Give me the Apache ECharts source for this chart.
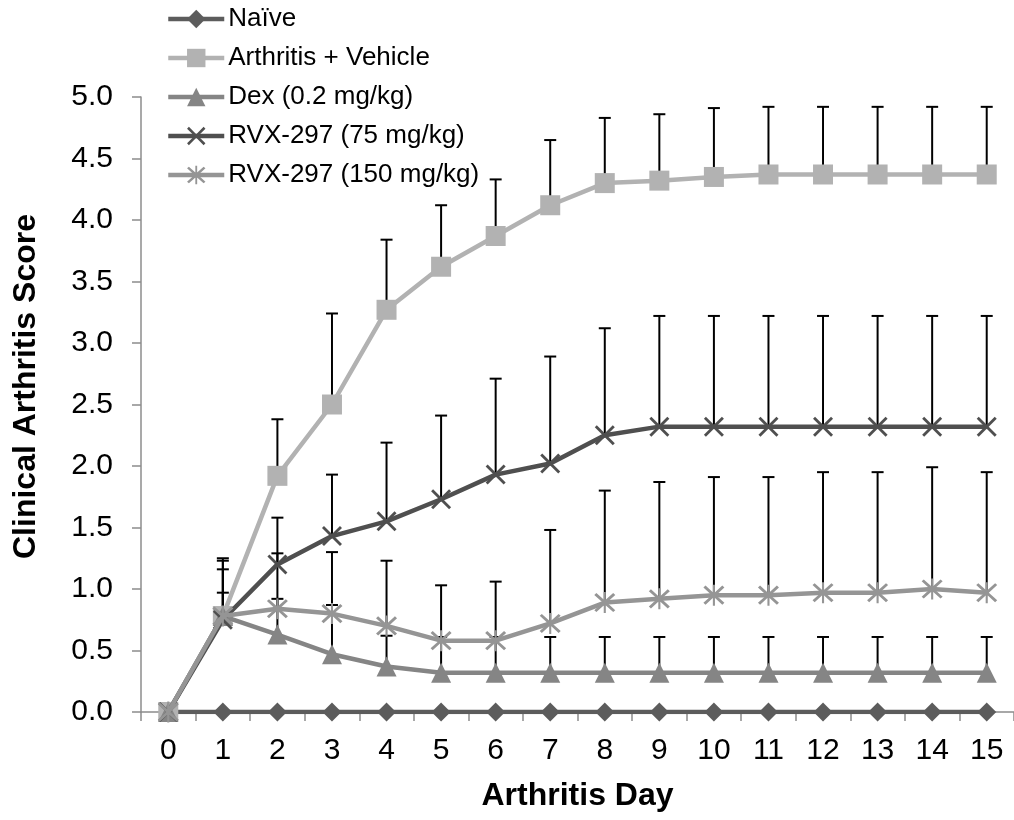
<!DOCTYPE html>
<html>
<head>
<meta charset="utf-8">
<script src="https://cdn.jsdelivr.net/npm/echarts@6/dist/echarts.min.js"></script>
<style>
html, body { margin: 0; padding: 0; background: #fff; }
#chart { width: 1014px; height: 820px; }
</style>
</head>
<body>
<div id="chart"></div>
<script>
const days = ['0','1','2','3','4','5','6','7','8','9','10','11','12','13','14','15'];
const yTicks = [0, 0.5, 1, 1.5, 2, 2.5, 3, 3.5, 4, 4.5, 5];

const seriesNames = ['Naïve', 'Arthritis + Vehicle', 'Dex (0.2 mg/kg)', 'RVX-297 (75 mg/kg)', 'RVX-297 (150 mg/kg)'];

const naive      = [0, 0, 0, 0, 0, 0, 0, 0, 0, 0, 0, 0, 0, 0, 0, 0];
const vehicle    = [0, 0.78, 1.92, 2.50, 3.27, 3.62, 3.87, 4.12, 4.30, 4.32, 4.35, 4.37, 4.37, 4.37, 4.37, 4.37];
const dex        = [0, 0.78, 0.63, 0.47, 0.37, 0.32, 0.32, 0.32, 0.32, 0.32, 0.32, 0.32, 0.32, 0.32, 0.32, 0.32];
const rvx75      = [0, 0.75, 1.20, 1.43, 1.55, 1.73, 1.93, 2.02, 2.25, 2.32, 2.32, 2.32, 2.32, 2.32, 2.32, 2.32];
const rvx150     = [0, 0.78, 0.84, 0.80, 0.70, 0.58, 0.58, 0.72, 0.89, 0.92, 0.95, 0.95, 0.97, 0.97, 1.00, 0.97];

// upper end of each error bar (mean + SEM)
const vehicleTop = [0, 1.25, 2.38, 3.24, 3.84, 4.12, 4.33, 4.65, 4.83, 4.86, 4.91, 4.92, 4.92, 4.92, 4.92, 4.92];
const dexTop     = [0, 0.97, 0.92, 0.87, 0.62, 0.61, 0.61, 0.61, 0.61, 0.61, 0.61, 0.61, 0.61, 0.61, 0.61, 0.61];
const rvx75Top   = [0, 1.23, 1.58, 1.93, 2.19, 2.41, 2.71, 2.89, 3.12, 3.22, 3.22, 3.22, 3.22, 3.22, 3.22, 3.22];
const rvx150Top  = [0, 1.16, 1.29, 1.30, 1.23, 1.03, 1.06, 1.48, 1.80, 1.87, 1.91, 1.91, 1.95, 1.95, 1.99, 1.95];

const colors = ['#5c5c5c', '#b2b2b2', '#858585', '#4f4f4f', '#959595'];
const symbols = [
  'diamond',
  'rect',
  'triangle',
  'path://M0,2 L2,0 L10,8 L18,0 L20,2 L12,10 L20,18 L18,20 L10,12 L2,20 L0,18 L8,10 Z',
  'path://M0,2 L2,0 L10,8 L18,0 L20,2 L12,10 L20,18 L18,20 L10,12 L2,20 L0,18 L8,10 Z M9,-1 L11,-1 L11,21 L9,21 Z'
];
const symbolSizes = [19, 20, 20, 20, 21];
const means = [naive, vehicle, dex, rvx75, rvx150];
const tops = [null, vehicleTop, dexTop, rvx75Top, rvx150Top];

const font = '"Liberation Sans", Arial, sans-serif';

function errorSeries(mean, top) {
  const data = mean.map((v, i) => [i, v, top[i]]);
  return {
    type: 'custom',
    z: 1,
    silent: true,
    renderItem: function (params, api) {
      const x = api.value(0);
      if (api.value(2) <= api.value(1)) return;
      const p0 = api.coord([x, api.value(1)]);
      const p1 = api.coord([x, api.value(2)]);
      const w = 6;
      const st = { stroke: '#000', lineWidth: 2 };
      return {
        type: 'group',
        children: [
          { type: 'line', shape: { x1: p0[0], y1: p0[1], x2: p1[0], y2: p1[1] }, style: st },
          { type: 'line', shape: { x1: p1[0] - w, y1: p1[1], x2: p1[0] + w, y2: p1[1] }, style: st }
        ]
      };
    },
    encode: { x: 0, y: [1, 2] },
    data: data
  };
}

const series = [];
for (let k = 1; k < means.length; k++) {
  series.push(errorSeries(means[k], tops[k]));
}
for (let k = 0; k < means.length; k++) {
  series.push({
    name: seriesNames[k],
    type: 'line',
    z: 3 + k,
    data: means[k],
    symbol: symbols[k],
    symbolSize: symbolSizes[k],
    showAllSymbol: true,
    lineStyle: { color: colors[k], width: 4.5 },
    itemStyle: { color: colors[k] },
    emphasis: { disabled: true }
  });
}

const chart = echarts.init(document.getElementById('chart'));
chart.setOption({
  animation: false,
  backgroundColor: '#fff',
  textStyle: { fontFamily: font },
  grid: { left: 141, top: 97, width: 875, height: 615, containLabel: false },
  legend: {
    orient: 'vertical',
    left: 161,
    top: 1,
    itemWidth: 56,
    itemHeight: 23,
    itemGap: 13,
    lineStyle: { width: 4.5 },
    textStyle: { fontSize: 26, color: '#000', fontFamily: font, padding: [0, 0, 0, -1] },
    data: seriesNames
  },
  xAxis: {
    type: 'category',
    data: days,
    boundaryGap: true,
    name: 'Arthritis Day',
    nameLocation: 'middle',
    nameGap: 68,
    nameTextStyle: { fontSize: 32, fontWeight: 'bold', color: '#000', fontFamily: font },
    axisLine: { lineStyle: { color: '#8c8c8c', width: 1.5 } },
    axisTick: { show: true, length: 9, lineStyle: { color: '#8c8c8c', width: 1.5 } },
    axisLabel: { fontSize: 30, color: '#000', margin: 24, fontFamily: font }
  },
  yAxis: {
    type: 'value',
    min: 0,
    max: 5,
    interval: 0.5,
    name: 'Clinical Arthritis Score',
    nameLocation: 'middle',
    nameGap: 99,
    nameTextStyle: {
      fontSize: 32, fontWeight: 'bold', color: '#000', fontFamily: font,
      padding: [0, 0, 0, 36]
    },
    axisLine: { show: true, lineStyle: { color: '#8c8c8c', width: 1.5 } },
    axisTick: { show: true, length: 9, lineStyle: { color: '#8c8c8c', width: 1.5 } },
    splitLine: { show: false },
    axisLabel: {
      fontSize: 30, color: '#000', margin: 28, fontFamily: font,
      formatter: function (v) { return v.toFixed(1); }
    }
  },
  series: series
});

window.addEventListener('resize', function () {
  chart.resize();
});
</script>
</body>
</html>
